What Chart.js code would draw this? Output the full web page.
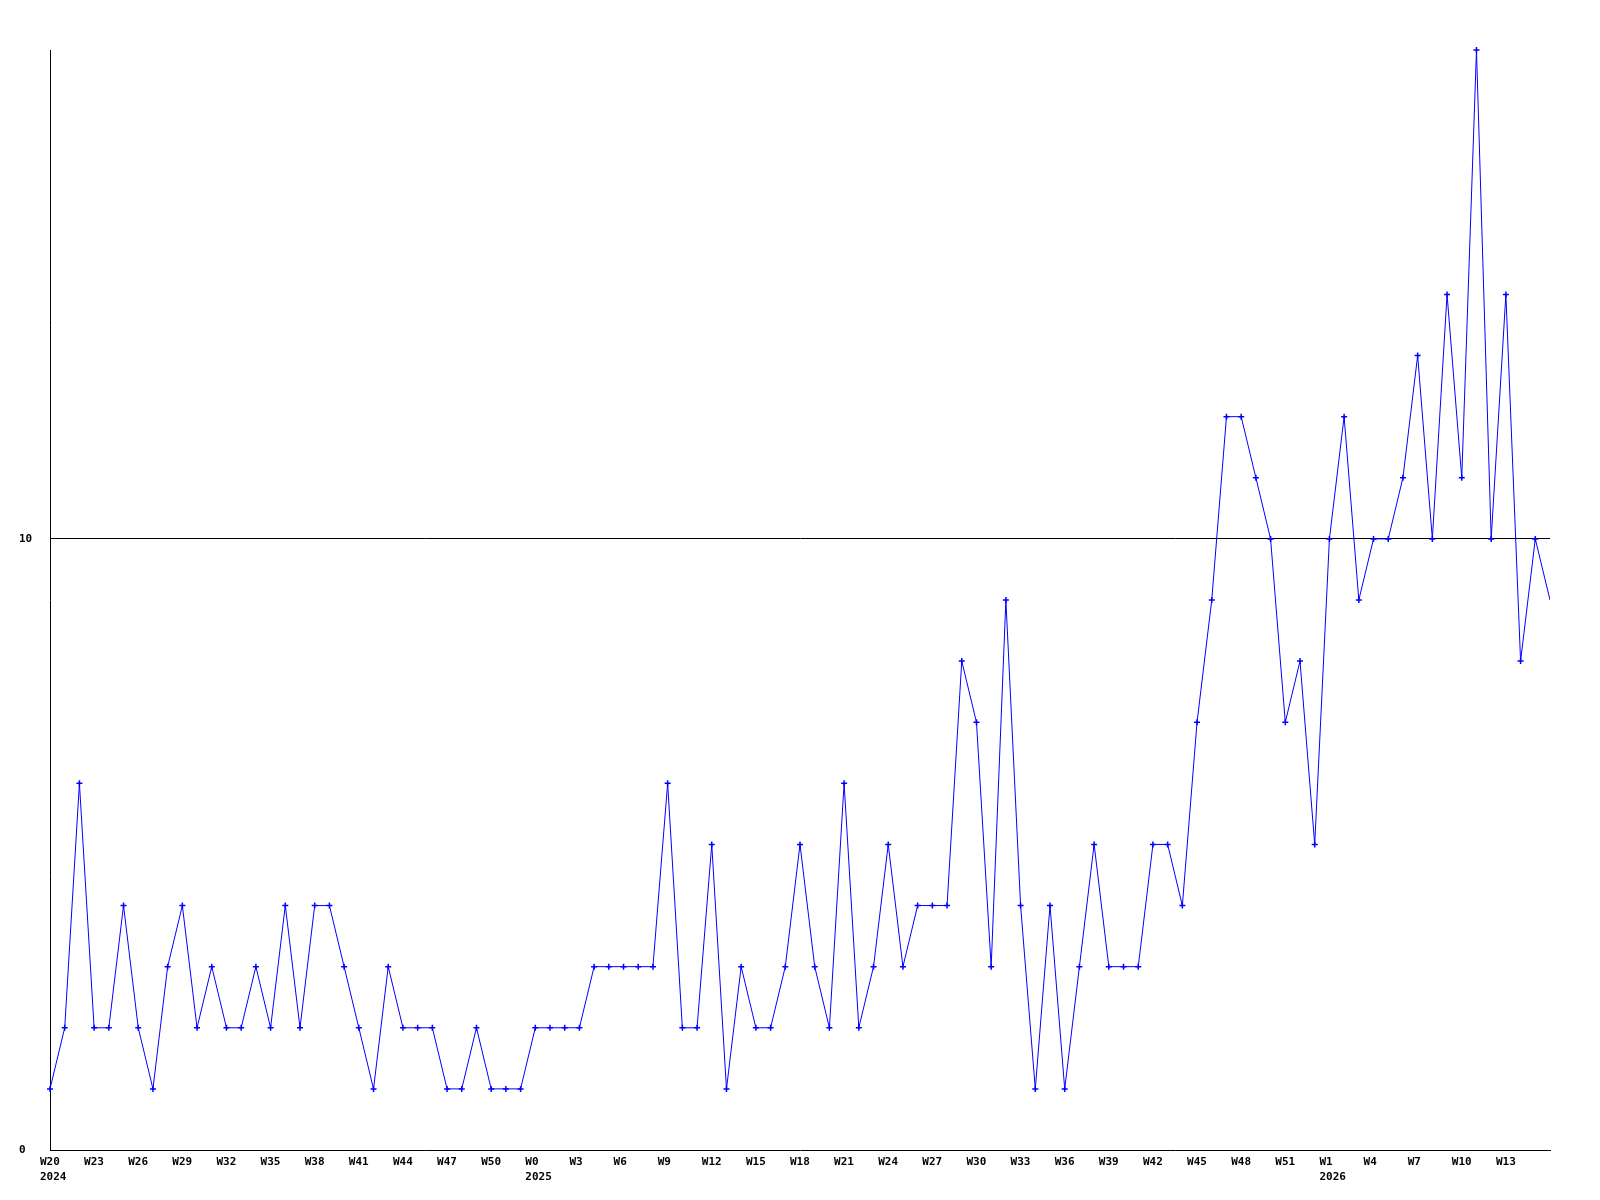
<!DOCTYPE html>
<html>
<head>
<meta charset="utf-8">
<title>Weekly count</title>
<script src="https://cdn.jsdelivr.net/npm/chart.js@4/dist/chart.umd.min.js"></script>
<style>
  html, body { margin: 0; padding: 0; background: #fff; }
  canvas { display: block; }
</style>
</head>
<body>
<canvas id="chart" width="1600" height="1200"></canvas>
<script>
// one entry per week, "year-week"
const weeks = [
    "2024-W20", "2024-W21", "2024-W22", "2024-W23", "2024-W24", "2024-W25", "2024-W26", "2024-W27",
    "2024-W28", "2024-W29", "2024-W30", "2024-W31", "2024-W32", "2024-W33", "2024-W34", "2024-W35",
    "2024-W36", "2024-W37", "2024-W38", "2024-W39", "2024-W40", "2024-W41", "2024-W42", "2024-W43",
    "2024-W44", "2024-W45", "2024-W46", "2024-W47", "2024-W48", "2024-W49", "2024-W50", "2024-W51",
    "2024-W52",
    "2025-W0", "2025-W1", "2025-W2", "2025-W3", "2025-W4", "2025-W5", "2025-W6", "2025-W7",
    "2025-W8", "2025-W9", "2025-W10", "2025-W11", "2025-W12", "2025-W13", "2025-W14", "2025-W15",
    "2025-W16", "2025-W17", "2025-W18", "2025-W19", "2025-W20", "2025-W21", "2025-W22", "2025-W23",
    "2025-W24", "2025-W25", "2025-W26", "2025-W27", "2025-W28", "2025-W29", "2025-W30", "2025-W31",
    "2025-W32", "2025-W33", "2025-W34", "2025-W35", "2025-W36", "2025-W37", "2025-W38", "2025-W39",
    "2025-W40", "2025-W41", "2025-W42", "2025-W43", "2025-W44", "2025-W45", "2025-W46", "2025-W47",
    "2025-W48", "2025-W49", "2025-W50", "2025-W51", "2025-W52",
    "2026-W0", "2026-W1", "2026-W2", "2026-W3", "2026-W4", "2026-W5", "2026-W6", "2026-W7",
    "2026-W8", "2026-W9", "2026-W10", "2026-W11", "2026-W12", "2026-W13", "2026-W14", "2026-W15",
    "2026-W16"
];

const counts = [
    1, 2, 6, 2, 2, 4, 2, 1, 3, 4, 2, 3, 2, 2, 3, 2,
    4, 2, 4, 4, 3, 2, 1, 3, 2, 2, 2, 1, 1, 2, 1, 1,
    1,
    2, 2, 2, 2, 3, 3, 3, 3, 3, 6, 2, 2, 5, 1, 3, 2,
    2, 3, 5, 3, 2, 6, 2, 3, 5, 3, 4, 4, 4, 8, 7, 3,
    9, 4, 1, 4, 1, 3, 5, 3, 3, 3, 5, 5, 4, 7, 9, 12,
    12, 11, 10, 7, 8,
    5, 10, 12, 9, 10, 10, 11, 13, 10, 14, 11, 18, 10, 14, 8, 10,
    9
];

const yTicks = [0, 10];
const yMax = 18;
const labelEvery = 3;

const FONT = { family: '"DejaVu Sans Mono", monospace', size: 11, weight: 'bold', lineHeight: 1.4 };

function yearOf(i) { return weeks[i].split('-')[0]; }
function weekOf(i) { return weeks[i].split('-')[1]; }

const ctx = document.getElementById('chart').getContext('2d');
new Chart(ctx, {
    type: 'line',
    data: {
        labels: weeks,
        datasets: [{
            data: counts,
            borderColor: '#0000ff',
            borderWidth: 1,
            tension: 0,
            fill: false,
            pointStyle: 'cross',
            pointRadius: (c) => c.dataIndex === counts.length - 1 ? 0 : 3,
            pointBorderWidth: 1.5,
            pointBorderColor: '#0000ff',
            pointBackgroundColor: '#0000ff',
            clip: { left: 6, top: 6, right: 0, bottom: 6 }
        }]
    },
    options: {
        responsive: false,
        animation: false,
        layout: { padding: { left: 19, top: 50, right: 50, bottom: 0 } },
        plugins: {
            legend: { display: false },
            tooltip: { enabled: false }
        },
        scales: {
            x: {
                type: 'category',
                offset: false,
                afterFit: (scale) => { scale.height = 50; },
                grid: { display: false, drawTicks: false },
                border: { display: true, color: '#000', width: 1 },
                ticks: {
                    autoSkip: false,
                    maxRotation: 0,
                    minRotation: 0,
                    align: 'start',
                    labelOffset: -10,
                    padding: 4,
                    color: '#000',
                    font: FONT,
                    callback: function(value, index) {
                        // the last week sits on the right edge and has no label
                        if (index % labelEvery !== 0 || index === weeks.length - 1) return null;
                        const w = weekOf(index);
                        if (index === 0 || yearOf(index) !== yearOf(index - labelEvery)) {
                            return [w, yearOf(index)];
                        }
                        return w;
                    }
                }
            },
            y: {
                min: 0,
                max: yMax,
                afterFit: (scale) => { scale.width = 31; },
                afterBuildTicks: (scale) => { scale.ticks = yTicks.map(v => ({ value: v })); },
                grid: {
                    drawTicks: false,
                    color: (c) => c.tick && c.tick.value === 10 ? '#000' : 'rgba(0,0,0,0)',
                    lineWidth: 1
                },
                border: { display: true, color: '#000', width: 1 },
                ticks: {
                    crossAlign: 'far',
                    padding: 0,
                    color: '#000',
                    font: FONT
                }
            }
        }
    }
});
</script>
</body>
</html>
